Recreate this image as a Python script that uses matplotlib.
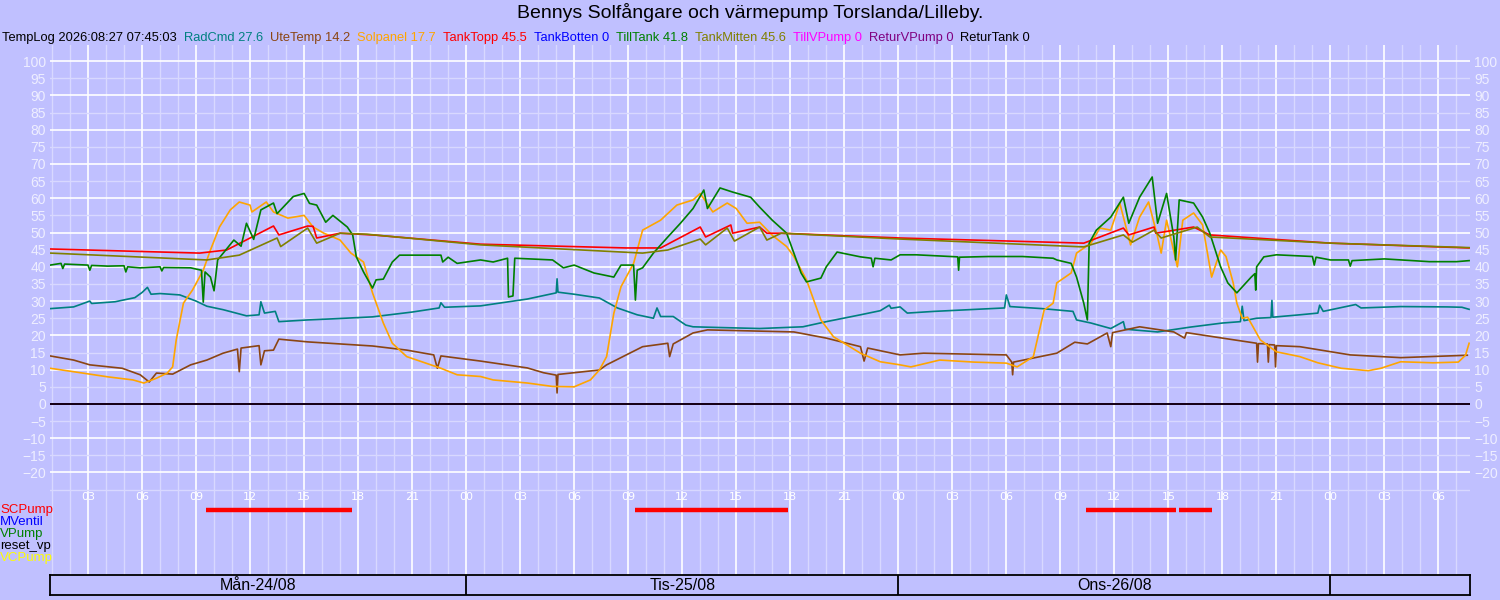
import matplotlib
matplotlib.use('Agg')
import matplotlib.pyplot as plt

plt.rcParams['font.family'] = ['Liberation Sans', 'DejaVu Sans']

# time axis: hours counted from Mon 24/08 00:00
t_start = 0.889
t_end = 79.75

title = 'Bennys Solfångare och värmepump Torslanda/Lilleby.'
stamp = 'TempLog 2026:08:27 07:45:03'

legend_names = ['RadCmd', 'UteTemp', 'Solpanel', 'TankTopp', 'TankBotten',
                'TillTank', 'TankMitten', 'TillVPump', 'ReturVPump', 'ReturTank']
legend_values = ['27.6', '14.2', '17.7', '45.5', '0', '41.8', '45.6', '0', '0', '0']
legend_colors = ['#008080', '#8B4513', '#FFA500', '#FF0000', '#0000FF',
                 '#008000', '#808000', '#FF00FF', '#800080', '#000000']

day_labels = ['Mån-24/08', 'Tis-25/08', 'Ons-26/08', '']
day_starts = [0, 24, 48, 72]

pump_names = ['SCPump', 'MVentil', 'VPump', 'reset_vp', 'VCPump']
pump_colors = ['#FF0000', '#0000FF', '#008000', '#000000', '#FFFF00']
scpump_on = [9.56, 33.4, 58.4, 63.6]
scpump_off = [17.67, 41.9, 63.4, 65.4]

rad_t = [0.9, 2.2, 3.1, 3.2, 4.5, 5.6, 6.0, 6.3, 6.5, 7.0, 8.1, 9.0, 9.6, 10.5, 11.8,
         12.5, 12.6, 12.8, 13.4, 13.6, 15.2, 16.5, 18.8, 21.0, 22.5, 22.6, 22.8, 24.8,
         27.4, 29.0, 29.05, 29.1, 30.0, 31.4, 32.4, 33.5, 34.4, 34.6, 34.8, 35.5, 36.2,
         36.6, 38.0, 40.3, 42.7, 44.0, 45.9, 47.0, 47.5, 47.6, 48.1, 48.5, 50.0, 53.9,
         54.0, 54.2, 56.0, 57.7, 57.9, 58.7, 59.8, 60.5, 60.6, 62.4, 64.2, 66.0, 67.0,
         67.1, 67.2, 67.9, 68.7, 68.75, 68.8, 70.3, 71.3, 71.4, 71.6, 73.4, 73.7, 75.9,
         78.5, 79.3, 79.7]
rad_v = [27.8, 28.3, 30.0, 29.3, 29.8, 31.0, 32.5, 34.0, 32.0, 32.2, 31.8, 30.0, 28.5, 27.5, 25.7,
         26.0, 29.8, 26.5, 27.0, 24.0, 24.5, 24.8, 25.4, 26.8, 28.0, 29.5, 28.2, 28.6,
         30.6, 32.4, 36.5, 32.6, 32.0, 30.9, 28.0, 26.0, 25.0, 28.0, 25.5, 25.5, 23.0,
         22.5, 22.3, 22.0, 22.5, 24.0, 26.0, 27.2, 28.8, 27.9, 28.3, 26.5, 27.0, 28.0,
         31.8, 28.4, 27.8, 27.0, 24.5, 23.6, 22.0, 24.0, 21.8, 21.0, 22.4, 23.6, 24.0,
         28.5, 24.3, 25.0, 25.2, 30.2, 25.3, 26.0, 26.5, 28.8, 27.0, 29.0, 28.0, 28.4,
         28.3, 28.2, 27.6]

ute_t = [0.9, 2.2, 3.1, 4.9, 5.9, 6.4, 6.8, 7.7, 8.7, 9.6, 10.5, 11.3, 11.4, 11.5, 12.5,
         12.6, 12.8, 13.3, 13.6, 15.2, 18.8, 20.7, 22.2, 22.4, 22.6, 24.8, 27.4, 28.3,
         29.0, 29.05, 29.1, 31.4, 31.8, 33.8, 35.2, 35.3, 35.5, 36.6, 37.4, 42.2, 44.0,
         45.9, 46.1, 46.3, 48.1, 49.4, 54.0, 54.3, 54.35, 54.4, 56.8, 57.8, 58.5, 59.6,
         59.8, 59.9, 61.4, 63.3, 63.9, 64.0, 66.0, 67.9, 67.95, 68.0, 68.5, 68.55, 68.6,
         68.9, 68.95, 69.0, 70.3, 73.1, 75.9, 79.6]
ute_v = [14.0, 12.8, 11.4, 10.4, 8.5, 6.4, 9.0, 8.7, 11.4, 12.8, 14.8, 16.0, 9.4, 16.3, 17.0,
         11.4, 15.5, 15.7, 18.9, 18.1, 16.9, 15.7, 14.3, 10.4, 14.0, 12.5, 10.5, 9.1,
         8.4, 3.2, 8.6, 9.9, 11.4, 16.7, 17.7, 13.8, 17.5, 20.7, 21.6, 21.0, 19.2,
         16.7, 12.5, 16.3, 14.3, 14.8, 14.3, 12.2, 8.5, 12.2, 14.8, 18.0, 17.5, 20.7,
         16.7, 20.8, 22.5, 21.0, 19.2, 20.8, 19.2, 17.7, 12.2, 17.6, 17.5, 12.2, 17.3,
         17.2, 10.8, 17.0, 16.7, 14.3, 13.5, 14.2]

sol_t = [0.9, 2.2, 4.1, 5.5, 6.1, 6.8, 7.4, 7.7, 7.9, 8.3, 8.8, 9.4, 9.8, 10.3, 10.9,
         11.4, 12.0, 12.1, 12.9, 13.3, 14.1, 15.0, 15.5, 16.1, 17.0, 17.6, 18.3, 18.8,
         19.4, 19.9, 20.7, 22.6, 23.5, 24.8, 25.5, 27.4, 28.8, 30.0, 30.9, 31.4, 31.8,
         32.2, 32.6, 33.3, 33.8, 34.8, 35.7, 36.6, 37.0, 37.7, 38.5, 39.0, 39.6, 40.3,
         41.0, 41.8, 42.2, 42.9, 43.7, 44.4, 45.9, 47.0, 48.1, 48.7, 50.3, 52.2, 54.0,
         54.6, 55.5, 56.1, 56.6, 56.8, 57.6, 57.9, 58.7, 59.2, 59.8, 60.3, 60.9, 61.4,
         61.9, 62.4, 62.6, 62.9, 63.5, 63.8, 64.4, 64.9, 65.4, 65.9, 66.2, 66.6, 66.8,
         67.1, 67.4, 67.7, 68.1, 69.0, 70.3, 71.3, 72.6, 74.1, 74.8, 75.9, 77.7, 79.1,
         79.5, 79.7]
sol_v = [10.4, 9.4, 7.9, 7.0, 6.1, 7.5, 9.0, 10.8, 18.7, 29.4, 33.2, 39.0, 44.9, 51.6, 56.6,
         58.9, 58.0, 56.0, 58.9, 56.0, 54.2, 55.0, 51.6, 49.8, 47.8, 44.0, 41.4, 32.4,
         23.6, 17.7, 13.8, 10.4, 8.5, 8.0, 7.0, 6.1, 5.1, 5.0, 7.0, 9.9, 13.8,
         26.4, 34.2, 41.0, 50.7, 53.6, 58.0, 59.5, 61.4, 56.0, 58.6, 57.0, 52.7, 53.0,
         49.2, 45.9, 43.0, 36.2, 24.5, 19.6, 14.8, 12.3, 11.4, 10.8, 12.8, 12.2, 11.9,
         10.8, 13.8, 27.4, 29.4, 35.3, 38.2, 44.0, 46.9, 51.3, 50.7, 58.6, 46.4, 54.5,
         58.9, 48.7, 44.0, 53.6, 40.0, 53.6, 55.7, 52.2, 37.0, 44.9, 43.0, 35.3, 29.4,
         25.0, 25.3, 22.5, 18.7, 15.2, 13.8, 12.0, 10.4, 9.7, 10.4, 12.3, 12.0, 12.2,
         14.2, 17.7]

topp_t = [0.9, 9.2, 10.7, 13.3, 13.6, 15.2, 15.5, 15.7, 17.0, 18.8, 24.8, 32.9, 34.8,
          37.0, 37.3, 38.7, 38.8, 40.3, 40.7, 41.5, 48.1, 58.3, 60.5, 60.8, 62.2, 62.3,
          64.4, 65.3, 72.0, 79.7]
topp_v = [45.2, 44.0, 44.9, 51.9, 49.3, 51.9, 51.8, 48.4, 49.8, 49.3, 46.6, 45.5, 45.5,
          51.6, 48.7, 52.2, 49.8, 51.6, 49.8, 49.8, 48.4, 46.9, 51.3, 49.3, 51.6, 49.8,
          51.6, 49.3, 46.9, 45.5]

mitten_t = [0.9, 9.6, 11.4, 13.5, 13.7, 15.2, 15.7, 17.0, 18.5, 24.8, 33.8, 35.2, 37.0,
            37.3, 38.5, 38.9, 40.3, 40.7, 41.5, 48.1, 58.3, 60.5, 61.0, 62.2, 62.6, 64.6,
            65.3, 72.0, 79.7]
mitten_v = [44.0, 42.0, 43.4, 48.4, 45.9, 51.3, 46.9, 49.8, 49.5, 46.4, 44.0, 44.9, 48.1,
            46.4, 51.3, 47.5, 51.6, 47.8, 49.8, 48.1, 45.8, 49.3, 47.2, 50.7, 48.4, 51.6,
            48.7, 46.9, 45.6]

till_t = [0.9, 1.5, 1.6, 1.7, 3.0, 3.1, 3.2, 4.1, 5.0, 5.1, 5.2, 5.9, 7.0, 7.1, 7.2, 8.7,
          9.3, 9.4, 9.5, 9.8, 10.0, 10.2, 11.1, 11.5, 11.8, 12.2, 12.6, 13.3, 13.5, 14.4,
          15.0, 15.3, 15.7, 16.2, 16.6, 17.4, 17.7, 17.9, 18.3, 18.8, 19.0, 19.4, 19.9,
          20.3, 22.6, 22.7, 23.0, 23.5, 24.8, 25.5, 26.3, 26.35, 26.6, 26.7, 28.8, 29.4,
          30.0, 31.1, 32.2, 32.6, 33.3, 33.4, 33.5, 33.8, 34.4, 35.2, 35.9, 36.6, 37.2,
          37.4, 38.1, 38.8, 39.8, 40.3, 41.0, 41.8, 42.2, 42.6, 42.9, 43.7, 44.0, 44.6,
          45.9, 46.5, 46.6, 46.7, 47.6, 48.1, 49.0, 51.3, 51.35, 51.4, 53.0, 54.9, 56.6,
          56.8, 57.6, 57.9, 58.3, 58.5, 58.6, 59.0, 59.8, 60.5, 60.8, 61.4, 62.1, 62.4,
          62.9, 63.3, 63.4, 63.6, 64.4, 64.9, 65.3, 65.9, 66.3, 66.8, 67.6, 67.8, 67.85,
          67.9, 68.3, 69.0, 71.0, 71.1, 71.2, 72.0, 73.0, 73.1, 73.2, 75.0, 77.5, 79.0,
          79.7]
till_v = [40.5, 41.0, 39.5, 40.8, 40.5, 39.0, 40.4, 40.2, 40.3, 38.5, 40.0, 39.7, 40.0, 38.8, 39.8, 39.7,
          39.0, 29.7, 38.5, 37.0, 33.0, 42.0, 47.8, 46.0, 52.7, 48.0, 56.6, 58.6, 55.5, 60.5,
          61.4, 58.5, 58.0, 53.0, 55.0, 51.6, 49.3, 42.9, 38.5, 33.8, 36.2, 36.4, 41.4,
          43.4, 43.4, 41.4, 42.8, 41.0, 42.0, 41.4, 42.5, 31.2, 31.5, 42.5, 42.0, 39.7,
          40.5, 38.2, 37.0, 40.5, 40.5, 30.3, 39.0, 39.7, 44.0, 48.7, 52.7, 57.0, 62.4,
          57.0, 63.0, 61.8, 60.3, 57.4, 53.6, 49.8, 44.0, 38.2, 35.6, 36.7, 40.0, 44.3,
          42.9, 42.5, 40.0, 42.5, 42.0, 43.5, 43.5, 42.9, 39.0, 42.8, 43.0, 43.0, 42.5,
          42.0, 41.0, 37.0, 29.4, 24.5, 46.9, 50.7, 54.5, 60.3, 52.7, 60.3, 66.2, 52.7,
          61.4, 48.7, 42.0, 59.5, 58.6, 54.5, 49.8, 40.0, 35.3, 32.4, 37.0, 38.0, 33.2,
          40.0, 42.9, 43.5, 43.0, 40.5, 42.8, 42.0, 42.0, 40.2, 41.8, 42.3, 41.5, 41.5,
          41.8]

zero_t = [t_start, t_end]
botten_v = [0, 0]
tillvp_v = [0, 0]
returvp_v = [0, 0]
returtank_v = [0, 0]

bg = '#C0C0FF'
fig = plt.figure(figsize=(15, 6), dpi=100, facecolor=bg)
ax = fig.add_axes([50 / 1500, 25 / 600, 1420 / 1500, 530 / 600])
ax.set_facecolor(bg)
ax.set_xlim(t_start, t_end)
ax.set_ylim(-49.9, 104.7)
for s in ax.spines.values():
    s.set_visible(False)

# grid: white every 3 h / 10 degrees, paler in between
for h in range(1, 80):
    ax.axvline(h, color='white' if h % 3 == 0 else '#D8D8FF', lw=1.2 if h % 3 == 0 else 1.0, zorder=1)
for v in range(-25, 101, 5):
    ax.axhline(v, color='white' if v % 10 == 0 else '#D8D8FF', lw=1.2 if v % 10 == 0 else 1.0, zorder=1)

ax.set_yticks(range(-20, 101, 5))
ax.tick_params(axis='y', length=0, labelsize=10, labelcolor='#EEEEFF',
               left=False, right=False, labelleft=True, labelright=True, pad=3)
ax.set_xticks([])

for h in range(3, 80, 3):
    ax.text(h, -27.2, '%02d' % (h % 24), ha='center', va='center', fontsize=8,
            color='white', family='DejaVu Sans')

series = [
    (rad_t, rad_v, legend_colors[0]),
    (ute_t, ute_v, legend_colors[1]),
    (sol_t, sol_v, legend_colors[2]),
    (topp_t, topp_v, legend_colors[3]),
    (zero_t, botten_v, legend_colors[4]),
    (till_t, till_v, legend_colors[5]),
    (mitten_t, mitten_v, legend_colors[6]),
    (zero_t, tillvp_v, legend_colors[7]),
    (zero_t, returvp_v, legend_colors[8]),
    (zero_t, returtank_v, legend_colors[9]),
]
for tt, vv, c in series:
    ax.plot(tt, vv, color=c, lw=1.2, zorder=3)

ax.hlines([-30.9] * len(scpump_on), scpump_on, scpump_off, color='#FF0000', lw=3.2, zorder=3)

for i, (name, c) in enumerate(zip(pump_names, pump_colors)):
    fig.text(0.0, 1 - (510 + 12 * i) / 600, name, color=c, fontsize=9.5, va='center', ha='left')

fig.text(0.5, 1 - 13 / 600, title, ha='center', va='center', fontsize=14)

# header line, items chained left to right
renderer = fig.canvas.get_renderer()
x_px = 2
hy = 1 - 38 / 600
items = [(stamp, 'black')] + [(n + ' ' + v, c) for n, v, c in
                              zip(legend_names, legend_values, legend_colors)]
for txt, c in items:
    t = fig.text(x_px / 1500, hy, txt, color=c, fontsize=9.3, va='center', ha='left')
    x_px += t.get_window_extent(renderer).width + 7

dax = fig.add_axes([50 / 1500, 5 / 600, 1420 / 1500, 20 / 600])
dax.set_facecolor(bg)
dax.set_xlim(t_start, t_end)
dax.set_ylim(0, 1)
dax.set_xticks([])
dax.set_yticks([])
for s in dax.spines.values():
    s.set_linewidth(1.3)
for d0, lab in zip(day_starts, day_labels):
    if d0 > t_start:
        dax.axvline(d0, color='black', lw=1.3)
    c0 = max(d0, t_start)
    c1 = min(d0 + 24, t_end)
    dax.text((c0 + c1) / 2, 0.45, lab, ha='center', va='center', fontsize=11.5)

fig.savefig('out.png', dpi=100, facecolor=bg)
